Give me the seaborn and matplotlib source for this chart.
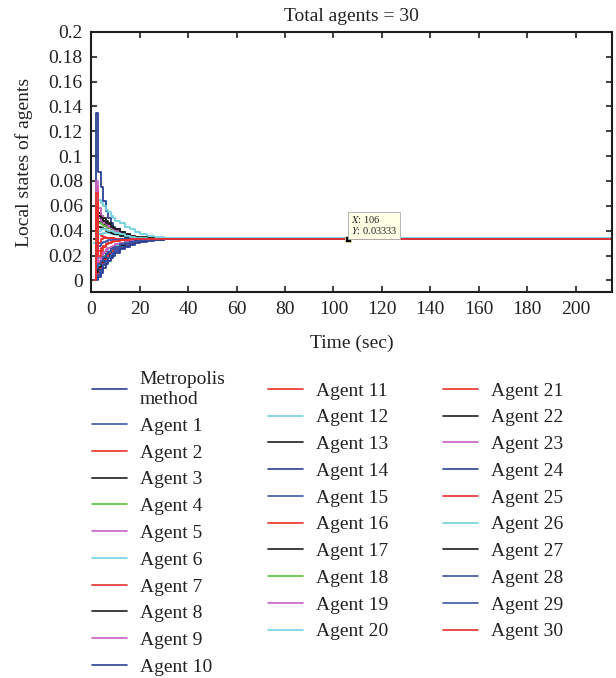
import numpy as np
import pandas as pd
import matplotlib
matplotlib.use("Agg")
import matplotlib.pyplot as plt
import seaborn as sns

# ---------------- data ----------------
time_points = [1, 2, 3, 4, 5, 6, 7, 8, 9, 10, 12, 14, 16, 18, 20, 23, 26, 30, 215]

series_names = ["Metropolis\nmethod"] + [f"Agent {i}" for i in range(1, 31)]

metropolis = [0.000, 0.135, 0.087, 0.075, 0.064, 0.056, 0.050, 0.046, 0.043, 0.041, 0.038, 0.036, 0.035, 0.0343, 0.0339, 0.0336, 0.0334, 0.03335, 0.03333]
agent_1 = [0.000, 0.002, 0.006, 0.010, 0.014, 0.017, 0.020, 0.022, 0.024, 0.026, 0.028, 0.0300, 0.0312, 0.0320, 0.0325, 0.0329, 0.0331, 0.0332, 0.03333]
agent_2 = [0.000, 0.075, 0.046, 0.050, 0.047, 0.044, 0.042, 0.040, 0.039, 0.038, 0.036, 0.035, 0.0345, 0.0340, 0.0337, 0.0335, 0.0334, 0.03335, 0.03333]
agent_3 = [0.033, 0.055, 0.054, 0.052, 0.050, 0.048, 0.046, 0.044, 0.042, 0.041, 0.039, 0.037, 0.036, 0.035, 0.0343, 0.0338, 0.0336, 0.0334, 0.03333]
agent_4 = [0.000, 0.010, 0.014, 0.017, 0.020, 0.022, 0.024, 0.026, 0.027, 0.028, 0.030, 0.031, 0.0318, 0.0323, 0.0327, 0.0330, 0.0332, 0.0333, 0.03333]
agent_5 = [0.000, 0.080, 0.058, 0.052, 0.048, 0.046, 0.044, 0.042, 0.040, 0.039, 0.037, 0.036, 0.035, 0.0343, 0.0339, 0.0336, 0.0334, 0.03335, 0.03333]
agent_6 = [0.030, 0.068, 0.065, 0.062, 0.060, 0.057, 0.055, 0.052, 0.050, 0.048, 0.046, 0.043, 0.041, 0.039, 0.0375, 0.036, 0.0348, 0.0340, 0.03333]
agent_7 = [0.000, 0.040, 0.037, 0.036, 0.035, 0.0345, 0.034, 0.0338, 0.0336, 0.0335, 0.0334, 0.0334, 0.0333, 0.0333, 0.0333, 0.0333, 0.0333, 0.0333, 0.03333]
agent_8 = [0.000, 0.004, 0.009, 0.013, 0.016, 0.019, 0.021, 0.023, 0.025, 0.026, 0.028, 0.0295, 0.0306, 0.0315, 0.0321, 0.0327, 0.0330, 0.0332, 0.03333]
agent_9 = [0.000, 0.012, 0.016, 0.019, 0.022, 0.024, 0.026, 0.027, 0.028, 0.029, 0.0305, 0.0315, 0.0322, 0.0326, 0.0329, 0.0331, 0.0332, 0.0333, 0.03333]
agent_10 = [0.000, 0.005, 0.008, 0.012, 0.015, 0.018, 0.020, 0.022, 0.024, 0.025, 0.027, 0.029, 0.0302, 0.0312, 0.0319, 0.0325, 0.0329, 0.0332, 0.03333]
agent_11 = [0.000, 0.020, 0.024, 0.026, 0.028, 0.029, 0.030, 0.0308, 0.0314, 0.0318, 0.0324, 0.0328, 0.0330, 0.0331, 0.0332, 0.0333, 0.0333, 0.0333, 0.03333]
agent_12 = [0.030, 0.036, 0.037, 0.0375, 0.0378, 0.038, 0.0378, 0.0375, 0.037, 0.0365, 0.0355, 0.0348, 0.0342, 0.0338, 0.0336, 0.0334, 0.0334, 0.0333, 0.03333]
agent_13 = [0.000, 0.048, 0.047, 0.046, 0.045, 0.044, 0.043, 0.042, 0.041, 0.040, 0.038, 0.037, 0.036, 0.0352, 0.0346, 0.0340, 0.0337, 0.0335, 0.03333]
agent_14 = [0.000, 0.001, 0.004, 0.008, 0.012, 0.015, 0.018, 0.020, 0.022, 0.024, 0.026, 0.028, 0.0295, 0.0307, 0.0316, 0.0323, 0.0328, 0.0331, 0.03333]
agent_15 = [0.000, 0.003, 0.007, 0.011, 0.014, 0.017, 0.019, 0.021, 0.023, 0.025, 0.027, 0.029, 0.0303, 0.0313, 0.0320, 0.0326, 0.0330, 0.0332, 0.03333]
agent_16 = [0.000, 0.006, 0.010, 0.014, 0.017, 0.020, 0.022, 0.024, 0.026, 0.027, 0.029, 0.0305, 0.0315, 0.0322, 0.0327, 0.0330, 0.0332, 0.0333, 0.03333]
agent_17 = [0.033, 0.042, 0.043, 0.042, 0.041, 0.040, 0.039, 0.038, 0.0375, 0.037, 0.036, 0.0352, 0.0346, 0.0341, 0.0338, 0.0336, 0.0334, 0.0333, 0.03333]
agent_18 = [0.000, 0.045, 0.046, 0.045, 0.044, 0.043, 0.042, 0.041, 0.040, 0.039, 0.0375, 0.0365, 0.0355, 0.0348, 0.0342, 0.0338, 0.0335, 0.0334, 0.03333]
agent_19 = [0.000, 0.050, 0.050, 0.048, 0.046, 0.045, 0.043, 0.042, 0.041, 0.040, 0.038, 0.0365, 0.0355, 0.0347, 0.0341, 0.0337, 0.0335, 0.0334, 0.03333]
agent_20 = [0.000, 0.008, 0.012, 0.016, 0.019, 0.022, 0.024, 0.026, 0.027, 0.028, 0.030, 0.031, 0.0318, 0.0324, 0.0328, 0.0331, 0.0332, 0.0333, 0.03333]
agent_21 = [0.000, 0.030, 0.014, 0.016, 0.019, 0.021, 0.023, 0.025, 0.026, 0.027, 0.029, 0.0305, 0.0315, 0.0322, 0.0327, 0.0330, 0.0332, 0.0333, 0.03333]
agent_22 = [0.000, 0.052, 0.052, 0.050, 0.048, 0.046, 0.045, 0.043, 0.042, 0.041, 0.039, 0.0375, 0.036, 0.0352, 0.0345, 0.0339, 0.0336, 0.0334, 0.03333]
agent_23 = [0.000, 0.015, 0.018, 0.021, 0.023, 0.025, 0.026, 0.027, 0.028, 0.029, 0.030, 0.031, 0.0318, 0.0324, 0.0328, 0.0331, 0.0332, 0.0333, 0.03333]
agent_24 = [0.000, 0.000, 0.003, 0.006, 0.010, 0.013, 0.016, 0.018, 0.020, 0.022, 0.025, 0.027, 0.0288, 0.0302, 0.0312, 0.0321, 0.0327, 0.0331, 0.03333]
agent_25 = [0.000, 0.060, 0.030, 0.033, 0.034, 0.0345, 0.0345, 0.034, 0.0338, 0.0337, 0.0335, 0.0334, 0.0334, 0.0333, 0.0333, 0.0333, 0.0333, 0.0333, 0.03333]
agent_26 = [0.030, 0.038, 0.040, 0.041, 0.041, 0.0405, 0.040, 0.0395, 0.039, 0.038, 0.037, 0.036, 0.035, 0.0345, 0.034, 0.0337, 0.0335, 0.0334, 0.03333]
agent_27 = [0.000, 0.007, 0.011, 0.015, 0.018, 0.021, 0.023, 0.025, 0.026, 0.027, 0.0285, 0.030, 0.031, 0.0318, 0.0324, 0.0328, 0.0331, 0.0332, 0.03333]
agent_28 = [0.000, 0.010, 0.013, 0.016, 0.019, 0.021, 0.023, 0.025, 0.026, 0.027, 0.029, 0.030, 0.031, 0.0318, 0.0323, 0.0328, 0.0331, 0.0332, 0.03333]
agent_29 = [0.000, 0.025, 0.028, 0.030, 0.031, 0.0318, 0.0322, 0.0325, 0.0327, 0.0329, 0.0331, 0.0332, 0.0333, 0.0333, 0.0333, 0.0333, 0.0333, 0.0333, 0.03333]
agent_30 = [0.000, 0.070, 0.020, 0.024, 0.027, 0.029, 0.030, 0.031, 0.0316, 0.032, 0.0325, 0.0329, 0.0331, 0.0332, 0.0333, 0.0333, 0.0333, 0.0333, 0.03333]

series_values = [metropolis, agent_1, agent_2, agent_3, agent_4, agent_5, agent_6,
                 agent_7, agent_8, agent_9, agent_10, agent_11, agent_12, agent_13,
                 agent_14, agent_15, agent_16, agent_17, agent_18, agent_19, agent_20,
                 agent_21, agent_22, agent_23, agent_24, agent_25, agent_26, agent_27,
                 agent_28, agent_29, agent_30]

x_ticks = [0, 20, 40, 60, 80, 100, 120, 140, 160, 180, 200]
y_ticks = [0, 0.02, 0.04, 0.06, 0.08, 0.1, 0.12, 0.14, 0.16, 0.18, 0.2]
y_tick_labels = ["0", "0.02", "0.04", "0.06", "0.08", "0.1", "0.12", "0.14", "0.16", "0.18", "0.2"]

datatip_x = 106
datatip_y = 0.03333

# ---------------- colours ----------------
BLUE = "#2c3f96"
BLUE2 = "#3d55a8"
RED = "#e8302e"
BLACK = "#1e1e1e"
GREEN = "#5cc03c"
MAGENTA = "#c462c4"
CYAN = "#72d2e0"
series_colors = [BLUE, BLUE2, RED, BLACK, GREEN, MAGENTA, CYAN, RED, BLACK, MAGENTA, BLUE,
                 RED, CYAN, BLACK, BLUE, BLUE2, RED, BLACK, GREEN, MAGENTA, CYAN,
                 RED, BLACK, MAGENTA, BLUE, RED, CYAN, BLACK, BLUE2, BLUE2, RED]

rows = []
for name, vals in zip(series_names, series_values):
    for t, v in zip(time_points, vals):
        rows.append({"time": t, "value": v, "series": name})
df = pd.DataFrame(rows)

# ---------------- plot ----------------
sns.set_theme(style="ticks")
plt.rcParams["font.family"] = ["Liberation Serif", "DejaVu Serif"]
plt.rcParams["mathtext.fontset"] = "stix"

fig = plt.figure(figsize=(6.16, 6.78), dpi=100)
ax = fig.add_axes([0.148, 0.569, 0.8455, 0.384])

sns.lineplot(data=df, x="time", y="value", hue="series", hue_order=series_names,
             palette=dict(zip(series_names, series_colors)), drawstyle="steps-post",
             linewidth=1.3, ax=ax, legend=True, estimator=None, sort=True)

leg = ax.get_legend()
handles = leg.legend_handles
labels = [t.get_text() for t in leg.texts]
leg.remove()

ax.set_xlim(0, 215)
ax.set_ylim(-0.0095, 0.2)
ax.set_xticks(x_ticks)
ax.set_yticks(y_ticks)
ax.set_yticklabels(y_tick_labels)
ax.tick_params(direction="in", length=4.5, width=1.2, top=True, right=True,
               labelsize=14, colors=BLACK, labelcolor="#222222", pad=6)
for s in ax.spines.values():
    s.set_linewidth(1.5)
    s.set_color(BLACK)

ax.set_xlabel("Time (sec)", fontsize=14, color="#222222", labelpad=12)
ax.set_ylabel("Local states of agents", fontsize=14, color="#222222", labelpad=11)
ax.set_title("Total agents = 30", fontsize=14, color="#222222", pad=8)

# data tip
ax.plot([datatip_x], [datatip_y], marker="s", color="black", markersize=4,
        markeredgecolor="#dddd99", markeredgewidth=0.6, zorder=10)
ax.annotate(f"$\\mathit{{X}}$: {datatip_x}\n$\\mathit{{Y}}$: {datatip_y:.5f}",
            xy=(datatip_x, datatip_y), xytext=(2, 2), textcoords="offset points",
            fontsize=7.5, color="#222222", ha="left", va="bottom", linespacing=1.0,
            bbox=dict(boxstyle="square,pad=0.25", facecolor="#ffffe6",
                      edgecolor="#aaaaaa", linewidth=0.6), zorder=11)

for h in handles:
    h.set_linewidth(1.2)

# legend: three equally spaced columns
col_slices = [(0, 11), (11, 21), (21, 31)]
col_x = [92 / 616, 268 / 616, 443 / 616]
col_y = [1 - 371 / 678, 1 - 382 / 678, 1 - 382 / 678]
for (a, b), cx, cy in zip(col_slices, col_x, col_y):
    lg = fig.legend(handles[a:b], labels[a:b], ncol=1, loc="upper left",
                    bbox_to_anchor=(cx, cy), frameon=False, fontsize=14,
                    handlelength=1.8, handletextpad=0.65, labelspacing=0.47,
                    borderpad=0, borderaxespad=0,
                    prop={"size": 14})
    for t in lg.get_texts():
        t.set_linespacing(1.25)
        t.set_color("#222222")

fig.savefig("out.png", dpi=100)
